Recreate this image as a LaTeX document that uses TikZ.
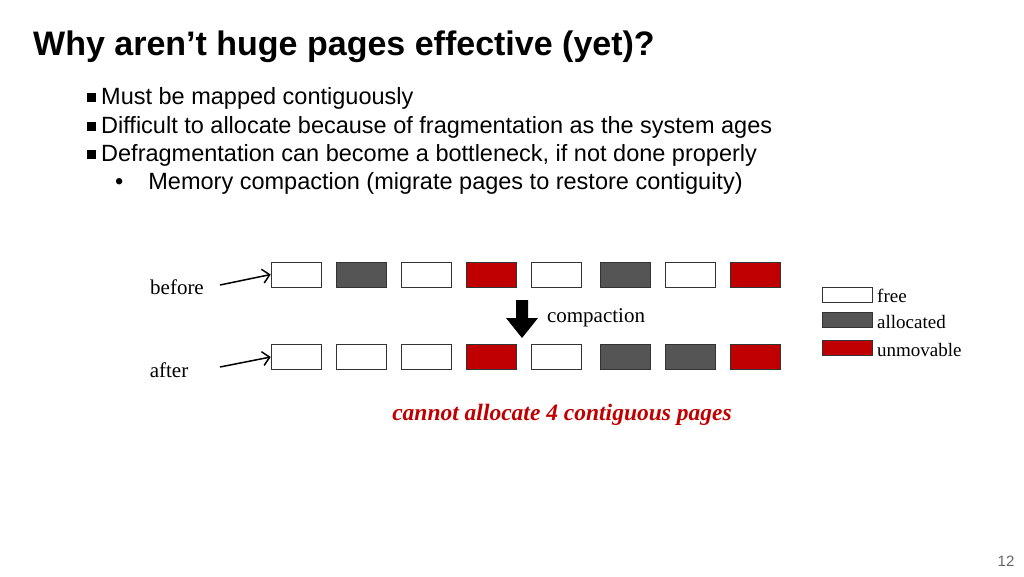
\documentclass[tikz,border=0pt]{standalone}
\usepackage{fontspec}
\setmainfont{Liberation Sans}
\newfontfamily\serif{Liberation Serif}
\usetikzlibrary{arrows.meta}
\definecolor{pagegray}{HTML}{555555}
\definecolor{pagered}{HTML}{C00000}
\newcommand{\sqbul}{\rule[2pt]{9pt}{9pt}\hspace{5pt}}
\tikzset{
  page/.style={draw=black!80, line width=0.6pt, minimum width=50pt, minimum height=25pt, inner sep=0pt},
  legendbox/.style={draw=black!80, line width=0.6pt, minimum width=50pt, minimum height=15pt, inner sep=0pt},
  lbl/.style={font=\serif\fontsize{21}{21}\selectfont, inner sep=0pt},
  bul/.style={anchor=west, inner sep=0pt, font=\fontsize{23.5}{23.5}\selectfont}
}
\begin{document}
\begin{tikzpicture}[x=1pt,y=-1pt]
\useasboundingbox (0,0) rectangle (1024,576);
% title and bullets
\node[anchor=west, inner sep=0pt, font=\bfseries\fontsize{34}{34}\selectfont] (title) at (33,47) {Why aren’t huge pages effective (yet)?};
\node[bul] (b1) at (87,98) {\sqbul Must be mapped contiguously};
\node[bul] (b2) at (87,127) {\sqbul Difficult to allocate because of fragmentation as the system ages};
\node[bul] (b3) at (87,155) {\sqbul Defragmentation can become a bottleneck, if not done properly};
\node[bul] (b4) at (115,183) {•\hspace{25pt}Memory compaction (migrate pages to restore contiguity)};
% page rows
\foreach \col [count=\i] in {white,pagegray,white,pagered,white,pagegray,white,pagered}
  \node[page, fill=\col] (p\i) at ({296+65*(\i-1)+(\i>5)*4},274.5) {};
\foreach \col [count=\i] in {white,white,white,pagered,white,pagegray,pagegray,pagered}
  \node[page, fill=\col] (q\i) at ({296+65*(\i-1)+(\i>5)*4},357) {};
% labels and arrows
\node[lbl] (before) at (177,287) {before};
\node[lbl] (after) at (169,370) {after};
\coordinate (bs) at (220,285);
\coordinate (as) at (220,367);
\draw[-{Straight Barb[length=7pt]}, line width=1.5pt] (bs) -- (p1.west);
\draw[-{Straight Barb[length=7pt]}, line width=1.5pt] (as) -- (q1.west);
% compaction arrow
\fill (516,300) -- (528,300) -- (528,318) -- (538,318) -- (522,338) -- (506,318) -- (516,318) -- cycle;
\node[lbl] (comp) at (596,318) {compaction};
% legend
\node[legendbox, fill=white] (lf) at (847,294.5) {};
\node[legendbox, fill=pagegray] (la) at (847,319.5) {};
\node[legendbox, fill=pagered] (lu) at (847,347.5) {};
\node[lbl, anchor=west, font=\serif\fontsize{19}{19}\selectfont] at (877,296) {free};
\node[lbl, anchor=west, font=\serif\fontsize{19}{19}\selectfont] at (877,322) {allocated};
\node[lbl, anchor=west, font=\serif\fontsize{19}{19}\selectfont] at (877,350) {unmovable};
\node[font=\serif\bfseries\itshape\fontsize{23.5}{23.5}\selectfont, text=pagered, inner sep=0pt] (note) at (562,415) {cannot allocate 4 contiguous pages};
\node[text=black!60, font=\fontsize{15}{15}\selectfont, inner sep=0pt] (num) at (1006,561) {12};
\end{tikzpicture}
\end{document}
